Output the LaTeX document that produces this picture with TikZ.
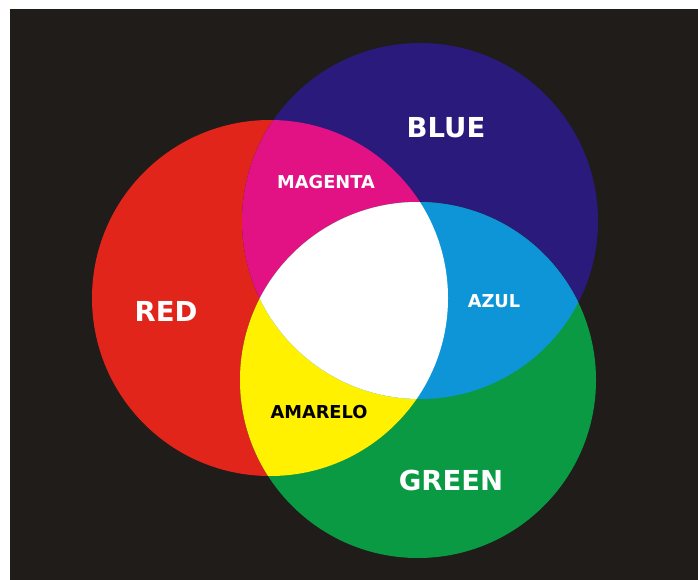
\documentclass[tikz,border=0pt]{standalone}
\usepackage{fontspec}
\setmainfont{DejaVu Sans}
\definecolor{bgdark}{HTML}{201C19}
\definecolor{lightred}{HTML}{E1251B}
\definecolor{lightblue}{HTML}{2A1A7C}
\definecolor{lightgreen}{HTML}{0A9A43}
\definecolor{mixmagenta}{HTML}{E21285}
\definecolor{mixcyan}{HTML}{0D95D8}
\definecolor{mixyellow}{HTML}{FFF100}

\begin{document}
\begin{tikzpicture}[x=1pt, y=-1pt,
  big/.style={font=\bfseries\fontsize{27.5}{27.5}\selectfont, text=white, inner sep=0pt},
  small/.style={font=\bfseries\fontsize{17.8}{17.8}\selectfont, text=white, inner sep=0pt}]
\useasboundingbox (0,0) rectangle (698,580);
\fill[white] (0,0) rectangle (698,580);
\fill[bgdark] (10,9) rectangle (698,580);
% circle centres
\coordinate (cred) at (270,298);
\coordinate (cblue) at (420,221);
\coordinate (cgreen) at (418,380);
\fill[lightred] (cred) circle[radius=178pt];
\fill[lightblue] (cblue) circle[radius=178pt];
\fill[lightgreen] (cgreen) circle[radius=178pt];
% two-colour overlaps
\begin{scope}
  \clip (cred) circle[radius=178pt];
  \fill[mixmagenta] (cblue) circle[radius=178pt];
  \fill[mixyellow] (cgreen) circle[radius=178pt];
\end{scope}
\begin{scope}
  \clip (cblue) circle[radius=178pt];
  \fill[mixcyan] (cgreen) circle[radius=178pt];
\end{scope}
% centre
\begin{scope}
  \clip (cred) circle[radius=178pt];
  \clip (cblue) circle[radius=178pt];
  \fill[white] (cgreen) circle[radius=178pt];
\end{scope}
% labels
\node[big] (blue) at (446,128) {BLUE};
\node[big] (red) at (166,311) {RED};
\node[big] (green) at (451,480) {GREEN};
\node[small] (magenta) at (326,182) {MAGENTA};
\node[small] (azul) at (494,301) {AZUL};
\node[small, text=black] (amarelo) at (319,412) {AMARELO};
\end{tikzpicture}
\end{document}
